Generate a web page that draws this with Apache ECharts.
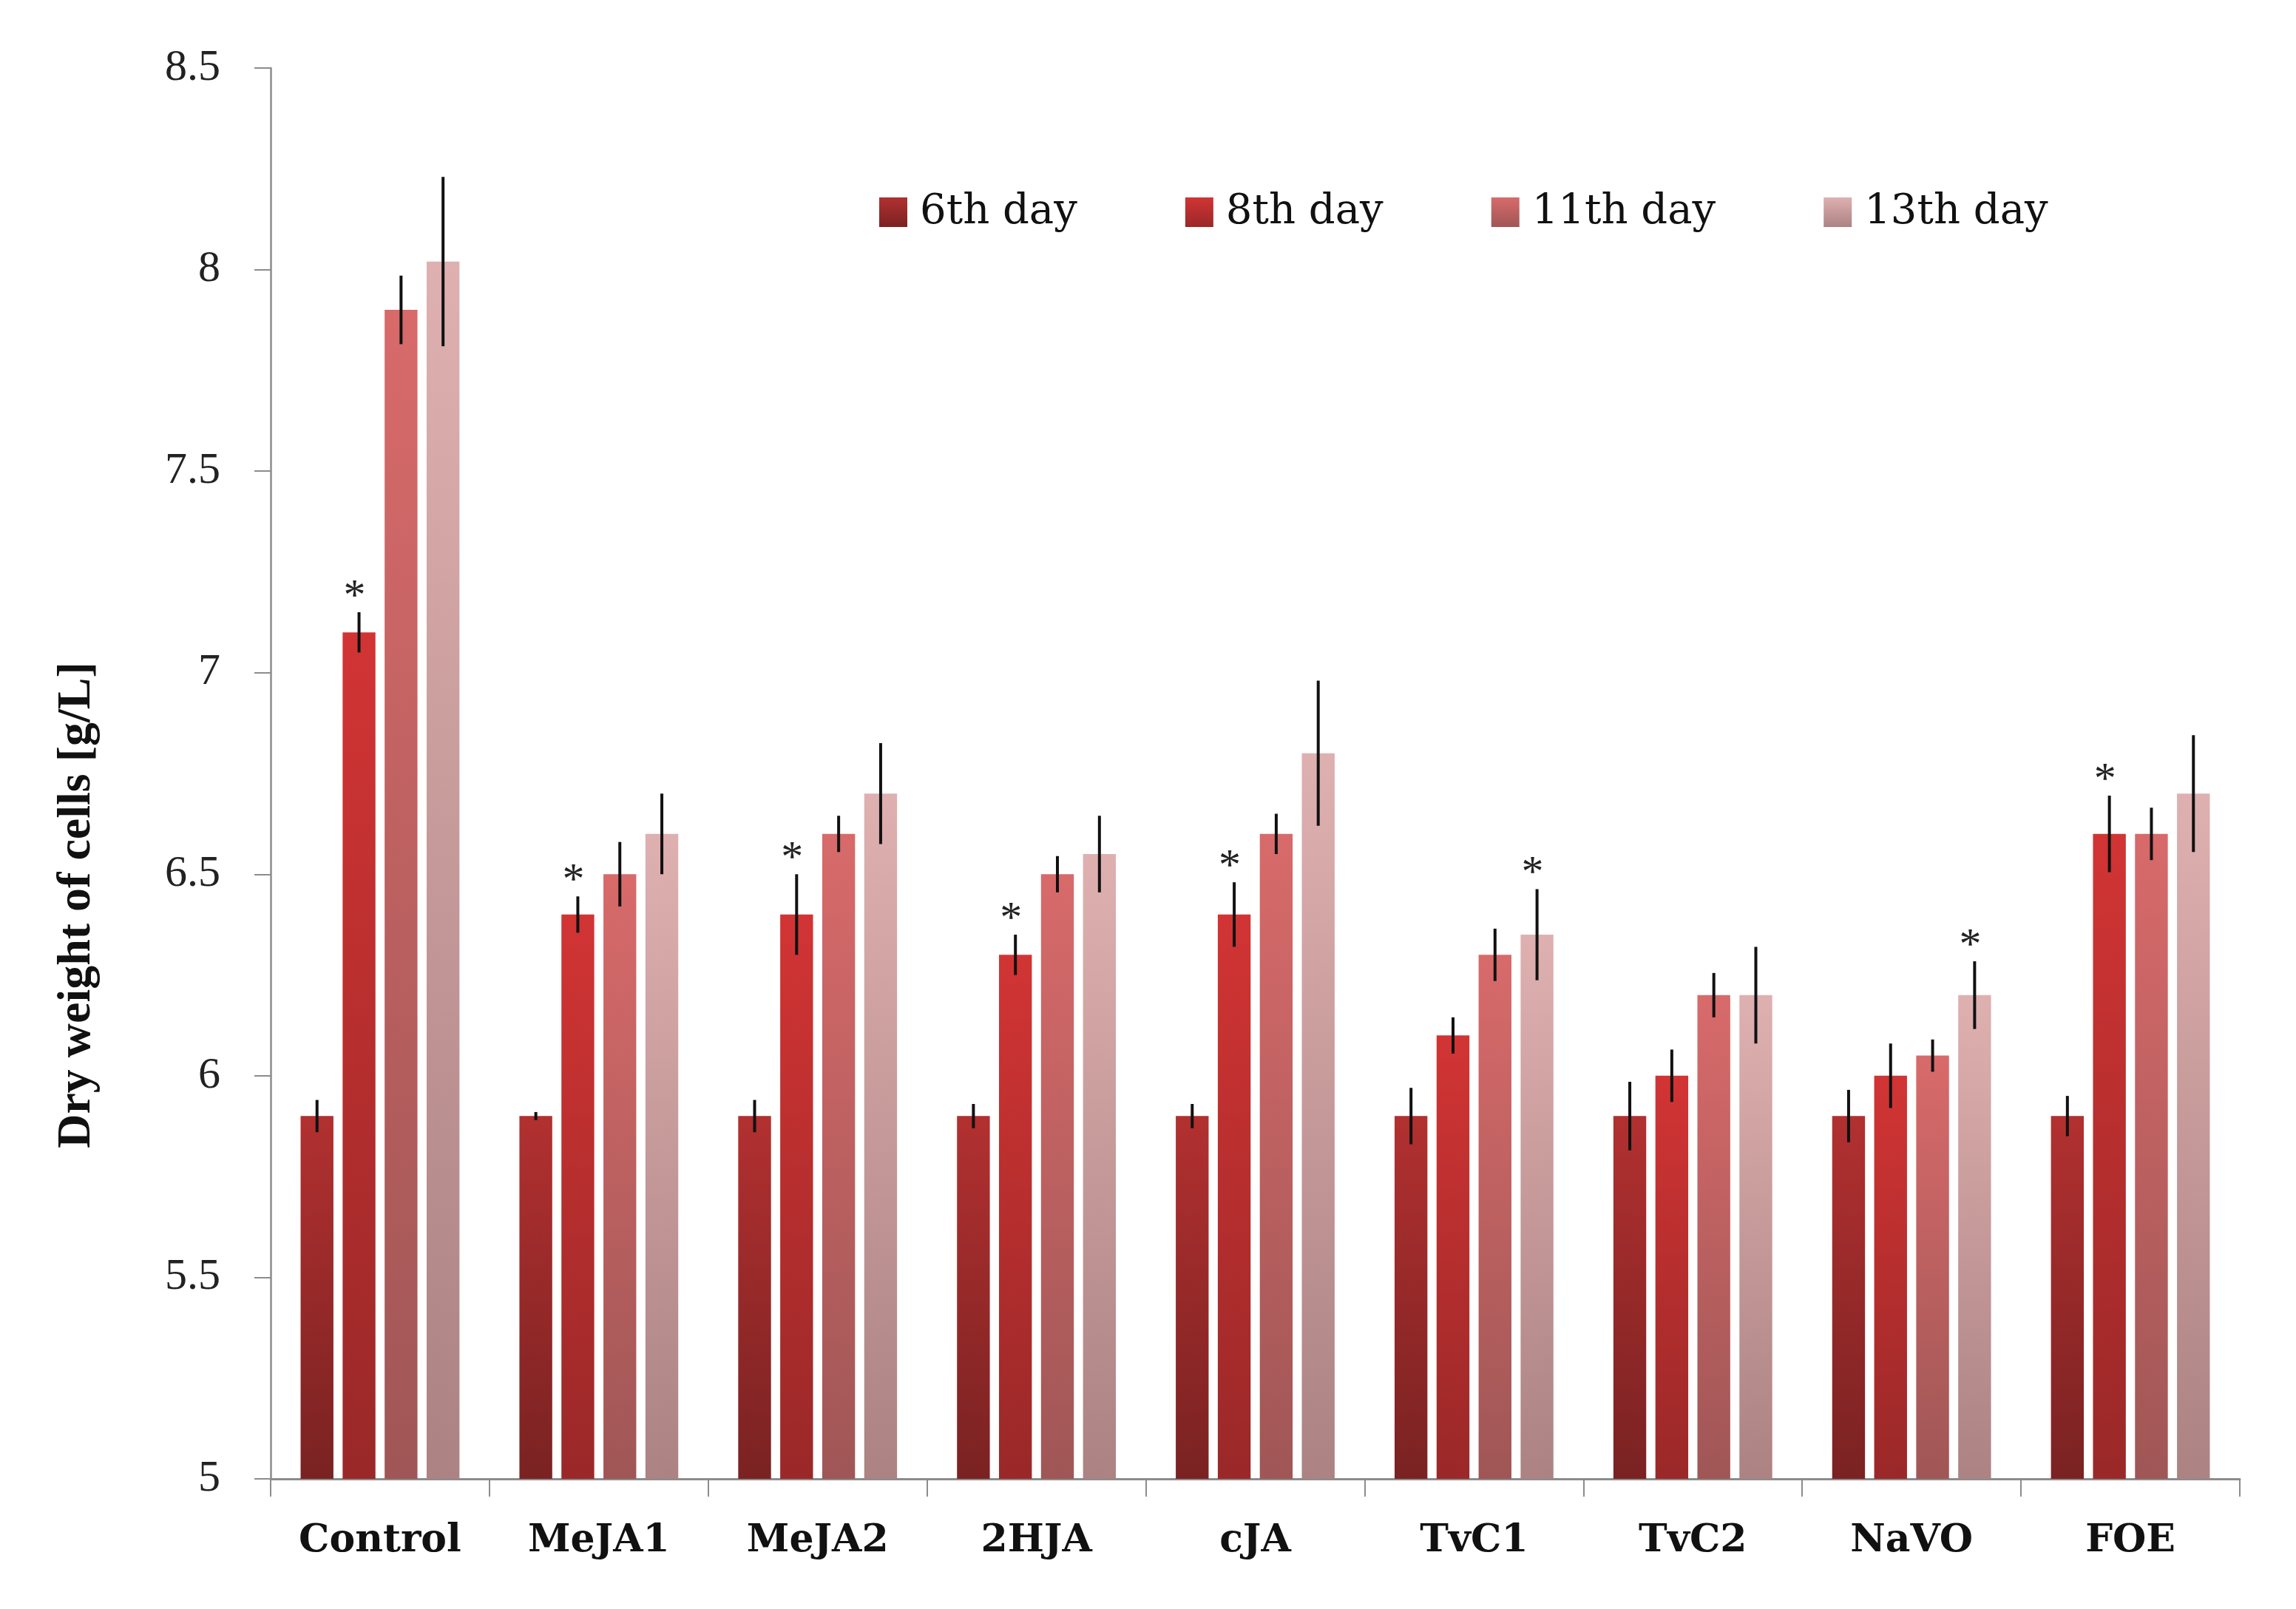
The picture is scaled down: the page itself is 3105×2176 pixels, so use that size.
<!DOCTYPE html>
<html>
<head>
<meta charset="utf-8">
<script src="https://cdn.jsdelivr.net/npm/echarts@6/dist/echarts.min.js"></script>
<style>
html,body{margin:0;padding:0;background:#fff;}
#chart{width:3105px;height:2176px;}
</style>
</head>
<body>
<div id="chart"></div>
<script>
var categories = ['Control','MeJA1','MeJA2','2HJA','cJA','TvC1','TvC2','NaVO','FOE'];
var seriesNames = ['6th day','8th day','11th day','13th day'];
var day6   = [5.9, 5.9, 5.9, 5.9, 5.9, 5.9, 5.9, 5.9, 5.9];
var day6Err= [0.04,0.01,0.04,0.03,0.03,0.07,0.085,0.065,0.05];
var day8   = [7.1, 6.4, 6.4, 6.3, 6.4, 6.1, 6.0, 6.0, 6.6];
var day8Err= [0.05,0.045,0.1,0.05,0.08,0.045,0.065,0.08,0.095];
var day11  = [7.9, 6.5, 6.6, 6.5, 6.6, 6.3, 6.2, 6.05, 6.6];
var day11Err=[0.085,0.08,0.045,0.045,0.05,0.065,0.055,0.04,0.065];
var day13  = [8.02,6.6, 6.7, 6.55,6.8, 6.35,6.2, 6.2, 6.7];
var day13Err=[0.21,0.1, 0.125,0.095,0.18,0.113,0.12,0.084,0.145];
var sig6  = [0,0,0,0,0,0,0,0,0];
var sig8  = [1,1,1,1,1,0,0,0,1];
var sig11 = [0,0,0,0,0,0,0,0,0];
var sig13 = [0,0,0,0,0,1,0,1,0];
var yTicks = [5, 5.5, 6, 6.5, 7, 7.5, 8, 8.5];
var yTitle = 'Dry weight of cells [g/L]';

var values = [day6, day8, day11, day13];
var errs = [day6Err, day8Err, day11Err, day13Err];
var sigs = [sig6, sig8, sig11, sig13];
var colors = [
  ['#b23030', '#7a2222'],
  ['#d23434', '#9a2828'],
  ['#d86a6a', '#a05656'],
  ['#dfb0b0', '#ac8282']
];
var BW = 0.15, GAP = 0.28;

var chart = echarts.init(document.getElementById('chart'));
var series = [];
for (var i = 0; i < 4; i++) {
  series.push({
    name: seriesNames[i],
    type: 'bar',
    data: values[i],
    barWidth: (BW*100) + '%',
    barGap: (GAP*100) + '%',
    itemStyle: {
      color: new echarts.graphic.LinearGradient(0,0,0,1,[
        {offset:0, color: colors[i][0]},
        {offset:1, color: colors[i][1]}
      ])
    }
  });
}
function makeRender(si) {
  return function (params, api) {
    var ci = api.value(0), v = api.value(1), e = api.value(2), s = api.value(3);
    var c = api.coord([ci, v]);
    var cw = api.size([1, 0])[0];
    var bw = cw * BW, gap = bw * GAP;
    var total = 4 * bw + 3 * gap;
    var x = c[0] - total / 2 + bw / 2 + si * (bw + gap);
    var top = api.coord([ci, v + e])[1];
    var bot = api.coord([ci, v - e])[1];
    var children = [{
      type: 'line',
      shape: {x1: x, y1: top, x2: x, y2: bot},
      style: {stroke: '#111', lineWidth: 4}
    }];
    if (s) {
      children.push({
        type: 'text',
        style: {text: '*', x: x - 6, y: top + 10, fill: '#222',
          font: '60px "Liberation Serif"', textAlign: 'center', textVerticalAlign: 'bottom'}
      });
    }
    return {type: 'group', children: children};
  };
}
for (var j = 0; j < 4; j++) {
  var d = [];
  for (var k = 0; k < categories.length; k++) d.push([k, values[j][k], errs[j][k], sigs[j][k]]);
  series.push({
    name: 'err' + j,
    type: 'custom',
    renderItem: makeRender(j),
    data: d,
    z: 10,
    silent: true,
    encode: {x: 0, y: 1}
  });
}

chart.setOption({
  backgroundColor: '#fff',
  animation: false,
  grid: {left: 366, right: 76, top: 92, bottom: 176, containLabel: false},
  legend: {
    data: seriesNames,
    left: 1184, top: 254,
    itemWidth: 38, itemHeight: 40, itemGap: 146,
    icon: 'rect',
    textStyle: {fontFamily: 'DejaVu Serif', fontSize: 56, color: '#111', padding: [0,0,0,12]}
  },
  graphic: [{
    type: 'text',
    x: 104, y: 1224,
    rotation: Math.PI / 2,
    style: {text: yTitle, fill: '#111', font: 'bold 64px "Liberation Serif"',
      textAlign: 'center', textVerticalAlign: 'middle'}
  }],
  xAxis: {
    type: 'category',
    data: categories,
    axisLine: {lineStyle: {color: '#8c8c8c', width: 3}},
    axisTick: {show: true, length: 24, lineStyle: {color: '#8c8c8c', width: 2}, alignWithLabel: false},
    axisLabel: {margin: 58, fontFamily: 'DejaVu Serif', fontWeight: 'bold', fontSize: 52, color: '#111'}
  },
  yAxis: {
    type: 'value',
    min: 5, max: 8.5, interval: 0.5,
    axisLine: {show: true, lineStyle: {color: '#8c8c8c', width: 2.5}},
    axisTick: {show: true, length: 22, lineStyle: {color: '#8c8c8c', width: 2}},
    splitLine: {show: false},
    axisLabel: {margin: 68, fontFamily: 'Liberation Serif', fontSize: 60, color: '#222',
      formatter: function (v) { return yTicks.indexOf(v) >= 0 ? String(v) : ''; }}
  },
  series: series
});
</script>
</body>
</html>
